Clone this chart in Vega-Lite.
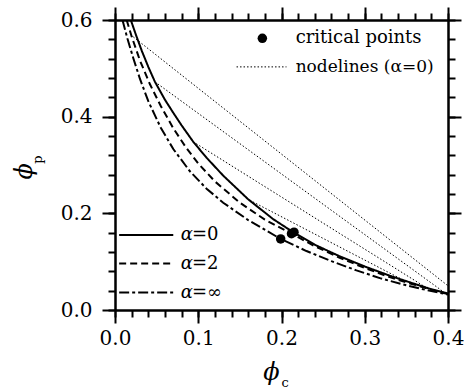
{
  "$schema": "https://vega.github.io/schema/vega-lite/v6.json",
  "width": 333,
  "height": 290,
  "autosize": "none",
  "padding": {"left": 115, "top": 20, "right": 16, "bottom": 81},
  "config": {
    "view": {"stroke": null},
    "font": "DejaVu Serif",
    "text": {"font": "DejaVu Serif"},
    "axis": {
      "grid": false,
      "domainColor": "black",
      "domainWidth": 2,
      "tickColor": "black",
      "tickWidth": 2,
      "labelColor": "black",
      "labelFont": "DejaVu Serif",
      "labelFontSize": 20,
      "labelOverlap": false,
      "labelFlush": false,
      "title": null
    }
  },
  "data": {"values": [{}]},
  "datasets": {
    "curves": [
      {"id": "a0", "series": "a0", "phic": 0.019, "phip": 0.600},
      {"id": "a0", "series": "a0", "phic": 0.025, "phip": 0.570},
      {"id": "a0", "series": "a0", "phic": 0.032, "phip": 0.537},
      {"id": "a0", "series": "a0", "phic": 0.040, "phip": 0.503},
      {"id": "a0", "series": "a0", "phic": 0.048, "phip": 0.472},
      {"id": "a0", "series": "a0", "phic": 0.060, "phip": 0.435},
      {"id": "a0", "series": "a0", "phic": 0.070, "phip": 0.408},
      {"id": "a0", "series": "a0", "phic": 0.080, "phip": 0.382},
      {"id": "a0", "series": "a0", "phic": 0.094, "phip": 0.348},
      {"id": "a0", "series": "a0", "phic": 0.110, "phip": 0.315},
      {"id": "a0", "series": "a0", "phic": 0.130, "phip": 0.278},
      {"id": "a0", "series": "a0", "phic": 0.160, "phip": 0.229},
      {"id": "a0", "series": "a0", "phic": 0.190, "phip": 0.188},
      {"id": "a0", "series": "a0", "phic": 0.214, "phip": 0.161},
      {"id": "a0", "series": "a0", "phic": 0.240, "phip": 0.135},
      {"id": "a0", "series": "a0", "phic": 0.270, "phip": 0.111},
      {"id": "a0", "series": "a0", "phic": 0.300, "phip": 0.090},
      {"id": "a0", "series": "a0", "phic": 0.330, "phip": 0.071},
      {"id": "a0", "series": "a0", "phic": 0.360, "phip": 0.054},
      {"id": "a0", "series": "a0", "phic": 0.380, "phip": 0.043},
      {"id": "a0", "series": "a0", "phic": 0.400, "phip": 0.034},
      {"id": "a2", "series": "a2", "phic": 0.014, "phip": 0.600},
      {"id": "a2", "series": "a2", "phic": 0.020, "phip": 0.566},
      {"id": "a2", "series": "a2", "phic": 0.030, "phip": 0.516},
      {"id": "a2", "series": "a2", "phic": 0.042, "phip": 0.467},
      {"id": "a2", "series": "a2", "phic": 0.055, "phip": 0.422},
      {"id": "a2", "series": "a2", "phic": 0.070, "phip": 0.376},
      {"id": "a2", "series": "a2", "phic": 0.085, "phip": 0.337},
      {"id": "a2", "series": "a2", "phic": 0.100, "phip": 0.303},
      {"id": "a2", "series": "a2", "phic": 0.120, "phip": 0.266},
      {"id": "a2", "series": "a2", "phic": 0.150, "phip": 0.222},
      {"id": "a2", "series": "a2", "phic": 0.180, "phip": 0.187},
      {"id": "a2", "series": "a2", "phic": 0.212, "phip": 0.158},
      {"id": "a2", "series": "a2", "phic": 0.240, "phip": 0.132},
      {"id": "a2", "series": "a2", "phic": 0.270, "phip": 0.108},
      {"id": "a2", "series": "a2", "phic": 0.300, "phip": 0.087},
      {"id": "a2", "series": "a2", "phic": 0.330, "phip": 0.068},
      {"id": "a2", "series": "a2", "phic": 0.360, "phip": 0.052},
      {"id": "a2", "series": "a2", "phic": 0.380, "phip": 0.042},
      {"id": "a2", "series": "a2", "phic": 0.400, "phip": 0.033},
      {"id": "ainf", "series": "ainf", "phic": 0.009, "phip": 0.600},
      {"id": "ainf", "series": "ainf", "phic": 0.015, "phip": 0.561},
      {"id": "ainf", "series": "ainf", "phic": 0.022, "phip": 0.521},
      {"id": "ainf", "series": "ainf", "phic": 0.030, "phip": 0.478},
      {"id": "ainf", "series": "ainf", "phic": 0.040, "phip": 0.432},
      {"id": "ainf", "series": "ainf", "phic": 0.055, "phip": 0.377},
      {"id": "ainf", "series": "ainf", "phic": 0.070, "phip": 0.333},
      {"id": "ainf", "series": "ainf", "phic": 0.090, "phip": 0.287},
      {"id": "ainf", "series": "ainf", "phic": 0.110, "phip": 0.251},
      {"id": "ainf", "series": "ainf", "phic": 0.130, "phip": 0.222},
      {"id": "ainf", "series": "ainf", "phic": 0.160, "phip": 0.186},
      {"id": "ainf", "series": "ainf", "phic": 0.199, "phip": 0.147},
      {"id": "ainf", "series": "ainf", "phic": 0.230, "phip": 0.122},
      {"id": "ainf", "series": "ainf", "phic": 0.260, "phip": 0.101},
      {"id": "ainf", "series": "ainf", "phic": 0.290, "phip": 0.082},
      {"id": "ainf", "series": "ainf", "phic": 0.320, "phip": 0.065},
      {"id": "ainf", "series": "ainf", "phic": 0.350, "phip": 0.051},
      {"id": "ainf", "series": "ainf", "phic": 0.375, "phip": 0.041},
      {"id": "ainf", "series": "ainf", "phic": 0.400, "phip": 0.032},
      {"id": "a0leg", "series": "a0", "phic": 0.005, "phip": 0.155},
      {"id": "a0leg", "series": "a0", "phic": 0.070, "phip": 0.155},
      {"id": "a2leg", "series": "a2", "phic": 0.005, "phip": 0.096},
      {"id": "a2leg", "series": "a2", "phic": 0.070, "phip": 0.096},
      {"id": "ainfleg", "series": "ainf", "phic": 0.005, "phip": 0.036},
      {"id": "ainfleg", "series": "ainf", "phic": 0.070, "phip": 0.036}
    ],
    "nodelines": [
      {"line": "A", "phic": 0.022, "phip": 0.565},
      {"line": "A", "phic": 0.400, "phip": 0.050},
      {"line": "B", "phic": 0.048, "phip": 0.472},
      {"line": "B", "phic": 0.395, "phip": 0.037},
      {"line": "C", "phic": 0.094, "phip": 0.348},
      {"line": "C", "phic": 0.375, "phip": 0.045},
      {"line": "D", "phic": 0.162, "phip": 0.227},
      {"line": "D", "phic": 0.345, "phip": 0.063},
      {"line": "leg", "phic": 0.146, "phip": 0.503},
      {"line": "leg", "phic": 0.206, "phip": 0.503}
    ],
    "critical": [
      {"alpha": "0", "phic": 0.215, "phip": 0.161},
      {"alpha": "2", "phic": 0.212, "phip": 0.158},
      {"alpha": "inf", "phic": 0.199, "phip": 0.147},
      {"alpha": "legend", "phic": 0.177, "phip": 0.562}
    ]
  },
  "layer": [
    {
      "data": {"name": "curves"},
      "mark": {"type": "line", "color": "black", "strokeWidth": 2, "clip": true},
      "encoding": {
        "x": {
          "field": "phic", "type": "quantitative",
          "scale": {"domain": [0, 0.4], "nice": false, "zero": false},
          "axis": {"orient": "bottom", "values": [0, 0.1, 0.2, 0.3, 0.4], "format": ".1f", "tickSize": 13, "labelPadding": 5}
        },
        "y": {
          "field": "phip", "type": "quantitative",
          "scale": {"domain": [0, 0.6], "nice": false, "zero": false},
          "axis": {"orient": "left", "values": [0, 0.2, 0.4, 0.6], "format": ".1f", "tickSize": 13, "labelPadding": 10}
        },
        "strokeDash": {
          "field": "series", "type": "nominal",
          "scale": {"domain": ["a0", "a2", "ainf"], "range": [[1, 0], [7, 4], [10, 3, 3, 3]]},
          "legend": null
        },
        "detail": {"field": "id", "type": "nominal"}
      }
    },
    {
      "data": {"name": "nodelines"},
      "transform": [{"filter": "datum.line != 'leg'"}],
      "mark": {"type": "line", "color": "black", "strokeWidth": 1, "strokeDash": [1.5, 2]},
      "encoding": {
        "x": {
          "field": "phic", "type": "quantitative",
          "scale": {"domain": [0, 0.4], "nice": false, "zero": false},
          "axis": {"orient": "top", "values": [0, 0.1, 0.2, 0.3, 0.4], "labels": false, "tickSize": 13}
        },
        "y": {
          "field": "phip", "type": "quantitative",
          "scale": {"domain": [0, 0.6], "nice": false, "zero": false},
          "axis": {"orient": "right", "values": [0, 0.2, 0.4, 0.6], "labels": false, "tickSize": 13}
        },
        "detail": {"field": "line", "type": "nominal"}
      }
    },
    {
      "data": {"name": "nodelines"},
      "transform": [{"filter": "datum.line == 'leg'"}],
      "mark": {"type": "line", "color": "black", "strokeWidth": 1, "strokeDash": [1.5, 2]},
      "encoding": {
        "x": {
          "field": "phic", "type": "quantitative",
          "scale": {"domain": [0, 0.4], "nice": false, "zero": false},
          "axis": {"orient": "top", "values": [0, 0.02, 0.04, 0.06, 0.08, 0.1, 0.12, 0.14, 0.16, 0.18, 0.2, 0.22, 0.24, 0.26, 0.28, 0.3, 0.32, 0.34, 0.36, 0.38, 0.4], "labels": false, "tickSize": 7}
        },
        "y": {
          "field": "phip", "type": "quantitative",
          "scale": {"domain": [0, 0.6], "nice": false, "zero": false},
          "axis": {"orient": "right", "values": [0, 0.04, 0.08, 0.12, 0.16, 0.2, 0.24, 0.28, 0.32, 0.36, 0.4, 0.44, 0.48, 0.52, 0.56, 0.6], "labels": false, "tickSize": 7}
        },
        "detail": {"field": "line", "type": "nominal"}
      }
    },
    {
      "data": {"name": "critical"},
      "mark": {"type": "point", "filled": true, "color": "black", "opacity": 1, "size": 90},
      "encoding": {
        "x": {
          "field": "phic", "type": "quantitative",
          "scale": {"domain": [0, 0.4], "nice": false, "zero": false},
          "axis": {"orient": "bottom", "values": [0, 0.02, 0.04, 0.06, 0.08, 0.1, 0.12, 0.14, 0.16, 0.18, 0.2, 0.22, 0.24, 0.26, 0.28, 0.3, 0.32, 0.34, 0.36, 0.38, 0.4], "labels": false, "tickSize": 7}
        },
        "y": {
          "field": "phip", "type": "quantitative",
          "scale": {"domain": [0, 0.6], "nice": false, "zero": false},
          "axis": {"orient": "left", "values": [0, 0.04, 0.08, 0.12, 0.16, 0.2, 0.24, 0.28, 0.32, 0.36, 0.4, 0.44, 0.48, 0.52, 0.56, 0.6], "labels": false, "tickSize": 7}
        }
      }
    },
    {
      "mark": {"type": "text", "text": "critical points", "font": "DejaVu Serif", "fontSize": 18, "align": "left", "baseline": "middle", "color": "black"},
      "encoding": {
        "x": {"datum": 0.217, "type": "quantitative", "scale": {"domain": [0, 0.4], "nice": false, "zero": false}, "axis": null},
        "y": {"datum": 0.563, "type": "quantitative", "scale": {"domain": [0, 0.6], "nice": false, "zero": false}, "axis": null}
      }
    },
    {
      "mark": {"type": "text", "text": "nodelines (α=0)", "font": "DejaVu Serif", "fontSize": 17, "align": "left", "baseline": "middle", "color": "black"},
      "encoding": {
        "x": {"datum": 0.217, "type": "quantitative", "scale": {"domain": [0, 0.4], "nice": false, "zero": false}, "axis": null},
        "y": {"datum": 0.502, "type": "quantitative", "scale": {"domain": [0, 0.6], "nice": false, "zero": false}, "axis": null}
      }
    },
    {
      "mark": {"type": "text", "text": "α", "font": "DejaVu Serif", "fontSize": 18, "fontStyle": "italic", "align": "left", "baseline": "middle", "color": "black"},
      "encoding": {
        "x": {"datum": 0.079, "type": "quantitative", "scale": {"domain": [0, 0.4], "nice": false, "zero": false}, "axis": null},
        "y": {"datum": 0.155, "type": "quantitative", "scale": {"domain": [0, 0.6], "nice": false, "zero": false}, "axis": null}
      }
    },
    {
      "mark": {"type": "text", "text": "=0", "font": "DejaVu Serif", "fontSize": 18, "align": "left", "baseline": "middle", "color": "black"},
      "encoding": {
        "x": {"datum": 0.0925, "type": "quantitative", "scale": {"domain": [0, 0.4], "nice": false, "zero": false}, "axis": null},
        "y": {"datum": 0.155, "type": "quantitative", "scale": {"domain": [0, 0.6], "nice": false, "zero": false}, "axis": null}
      }
    },
    {
      "mark": {"type": "text", "text": "α", "font": "DejaVu Serif", "fontSize": 18, "fontStyle": "italic", "align": "left", "baseline": "middle", "color": "black"},
      "encoding": {
        "x": {"datum": 0.079, "type": "quantitative", "scale": {"domain": [0, 0.4], "nice": false, "zero": false}, "axis": null},
        "y": {"datum": 0.096, "type": "quantitative", "scale": {"domain": [0, 0.6], "nice": false, "zero": false}, "axis": null}
      }
    },
    {
      "mark": {"type": "text", "text": "=2", "font": "DejaVu Serif", "fontSize": 18, "align": "left", "baseline": "middle", "color": "black"},
      "encoding": {
        "x": {"datum": 0.0925, "type": "quantitative", "scale": {"domain": [0, 0.4], "nice": false, "zero": false}, "axis": null},
        "y": {"datum": 0.096, "type": "quantitative", "scale": {"domain": [0, 0.6], "nice": false, "zero": false}, "axis": null}
      }
    },
    {
      "mark": {"type": "text", "text": "α", "font": "DejaVu Serif", "fontSize": 18, "fontStyle": "italic", "align": "left", "baseline": "middle", "color": "black"},
      "encoding": {
        "x": {"datum": 0.079, "type": "quantitative", "scale": {"domain": [0, 0.4], "nice": false, "zero": false}, "axis": null},
        "y": {"datum": 0.036, "type": "quantitative", "scale": {"domain": [0, 0.6], "nice": false, "zero": false}, "axis": null}
      }
    },
    {
      "mark": {"type": "text", "text": "=∞", "font": "DejaVu Serif", "fontSize": 18, "align": "left", "baseline": "middle", "color": "black"},
      "encoding": {
        "x": {"datum": 0.0925, "type": "quantitative", "scale": {"domain": [0, 0.4], "nice": false, "zero": false}, "axis": null},
        "y": {"datum": 0.036, "type": "quantitative", "scale": {"domain": [0, 0.6], "nice": false, "zero": false}, "axis": null}
      }
    },
    {
      "mark": {"type": "text", "text": "ϕ", "font": "DejaVu Serif", "fontSize": 24, "fontStyle": "italic", "align": "center", "baseline": "middle", "color": "black"},
      "encoding": {
        "x": {"datum": 0.188, "type": "quantitative", "scale": {"domain": [0, 0.4], "nice": false, "zero": false}, "axis": null},
        "y": {"datum": -0.130, "type": "quantitative", "scale": {"domain": [0, 0.6], "nice": false, "zero": false}, "axis": null}
      }
    },
    {
      "mark": {"type": "text", "text": "c", "font": "DejaVu Serif", "fontSize": 13, "align": "center", "baseline": "middle", "color": "black"},
      "encoding": {
        "x": {"datum": 0.2045, "type": "quantitative", "scale": {"domain": [0, 0.4], "nice": false, "zero": false}, "axis": null},
        "y": {"datum": -0.152, "type": "quantitative", "scale": {"domain": [0, 0.6], "nice": false, "zero": false}, "axis": null}
      }
    },
    {
      "mark": {"type": "text", "text": "ϕ", "font": "DejaVu Serif", "fontSize": 24, "fontStyle": "italic", "align": "center", "baseline": "middle", "angle": 270, "color": "black"},
      "encoding": {
        "x": {"datum": -0.108, "type": "quantitative", "scale": {"domain": [0, 0.4], "nice": false, "zero": false}, "axis": null},
        "y": {"datum": 0.287, "type": "quantitative", "scale": {"domain": [0, 0.6], "nice": false, "zero": false}, "axis": null}
      }
    },
    {
      "mark": {"type": "text", "text": "p", "font": "DejaVu Serif", "fontSize": 13, "align": "center", "baseline": "middle", "angle": 270, "color": "black"},
      "encoding": {
        "x": {"datum": -0.093, "type": "quantitative", "scale": {"domain": [0, 0.4], "nice": false, "zero": false}, "axis": null},
        "y": {"datum": 0.311, "type": "quantitative", "scale": {"domain": [0, 0.6], "nice": false, "zero": false}, "axis": null}
      }
    }
  ],
  "resolve": {"axis": {"x": "independent", "y": "independent"}}
}
